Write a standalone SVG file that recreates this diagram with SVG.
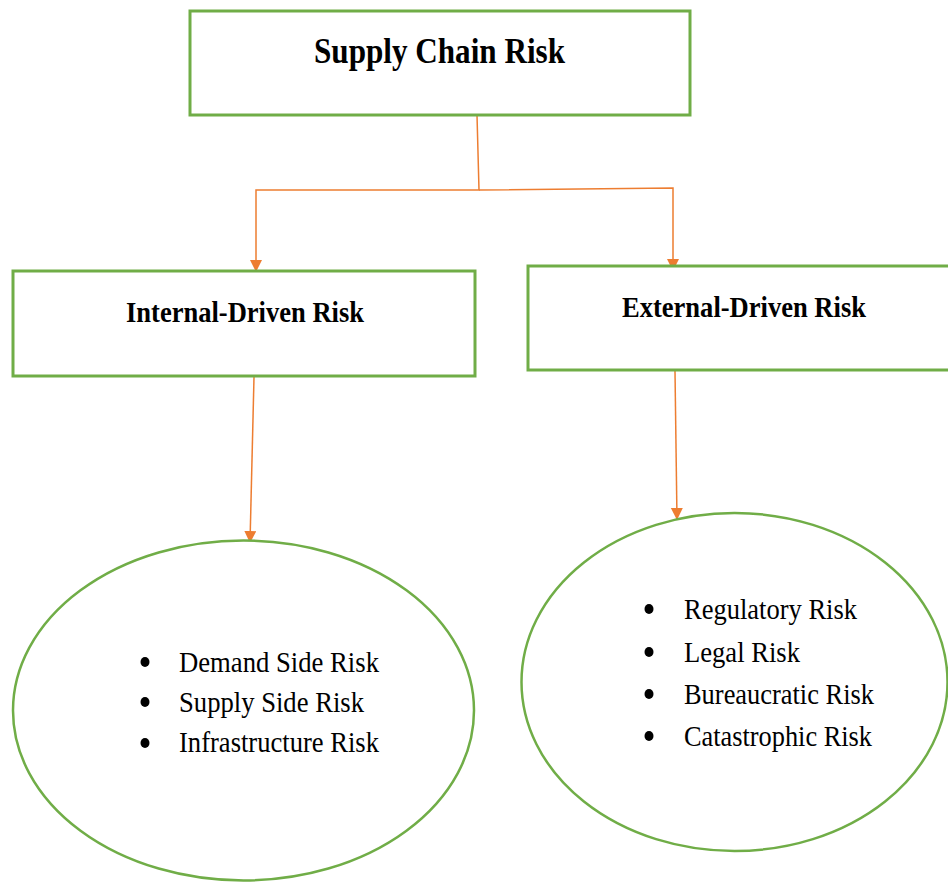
<svg xmlns="http://www.w3.org/2000/svg" width="948" height="882" viewBox="0 0 948 882">
<style>
.box{fill:#fff;stroke:#70AD47;stroke-width:3}
.ell{fill:#fff;stroke:#70AD47;stroke-width:2.5}
.con{fill:none;stroke:#ED7D31;stroke-width:1.5}
.h{font-family:"Liberation Serif","Times New Roman",serif;font-weight:bold;fill:#000}
.li{font-family:"Liberation Serif","Times New Roman",serif;font-size:29px;fill:#000}
.dot{fill:#000}
</style>
<defs>
<marker id="arr" markerUnits="userSpaceOnUse" markerWidth="14" markerHeight="14" refX="12" refY="6" orient="auto">
<path d="M0,0 L12,6 L0,12 Z" fill="#ED7D31"/>
</marker>
</defs>
<rect width="948" height="882" fill="#fff"/>
<g id="connectors">
<path class="con" d="M477,115 L479,190 L256,190 L256,272" marker-end="url(#arr)"/>
<path class="con" d="M479,190 L673,188 L673,271" marker-end="url(#arr)"/>
<path class="con" d="M254,377 L250,543" marker-end="url(#arr)"/>
<path class="con" d="M675,371 L677,520" marker-end="url(#arr)"/>
</g>
<g id="supply-chain-risk">
<rect class="box" x="190" y="11" width="500" height="104"/>
<text class="h" x="314" y="63" font-size="36" textLength="251" lengthAdjust="spacingAndGlyphs">Supply Chain Risk</text>
</g>
<g id="internal-driven-risk">
<rect class="box" x="13" y="271" width="462" height="105"/>
<text class="h" x="126" y="322" font-size="30" textLength="238" lengthAdjust="spacingAndGlyphs">Internal-Driven Risk</text>
</g>
<g id="external-driven-risk">
<rect class="box" x="528" y="266" width="424" height="104"/>
<text class="h" x="622" y="317" font-size="30" textLength="244" lengthAdjust="spacingAndGlyphs">External-Driven Risk</text>
</g>
<g id="internal-list">
<ellipse class="ell" cx="243.5" cy="710.5" rx="230.5" ry="170"/>
<ellipse class="dot" cx="145" cy="662" rx="4.5" ry="5"/>
<ellipse class="dot" cx="145" cy="702" rx="4.5" ry="5"/>
<ellipse class="dot" cx="145" cy="743" rx="4.5" ry="5"/>
<text class="li" x="179" y="672" textLength="200" lengthAdjust="spacingAndGlyphs">Demand Side Risk</text>
<text class="li" x="179" y="712" textLength="185" lengthAdjust="spacingAndGlyphs">Supply Side Risk</text>
<text class="li" x="179" y="752" textLength="200" lengthAdjust="spacingAndGlyphs">Infrastructure Risk</text>
</g>
<g id="external-list">
<ellipse class="ell" cx="734.5" cy="682" rx="213" ry="169"/>
<ellipse class="dot" cx="649" cy="609" rx="4.5" ry="5"/>
<ellipse class="dot" cx="649" cy="652" rx="4.5" ry="5"/>
<ellipse class="dot" cx="649" cy="694" rx="4.5" ry="5"/>
<ellipse class="dot" cx="649" cy="736" rx="4.5" ry="5"/>
<text class="li" x="684" y="619" textLength="173" lengthAdjust="spacingAndGlyphs">Regulatory Risk</text>
<text class="li" x="684" y="662" textLength="116" lengthAdjust="spacingAndGlyphs">Legal Risk</text>
<text class="li" x="684" y="704" textLength="190" lengthAdjust="spacingAndGlyphs">Bureaucratic Risk</text>
<text class="li" x="684" y="746" textLength="188" lengthAdjust="spacingAndGlyphs">Catastrophic Risk</text>
</g>
</svg>
